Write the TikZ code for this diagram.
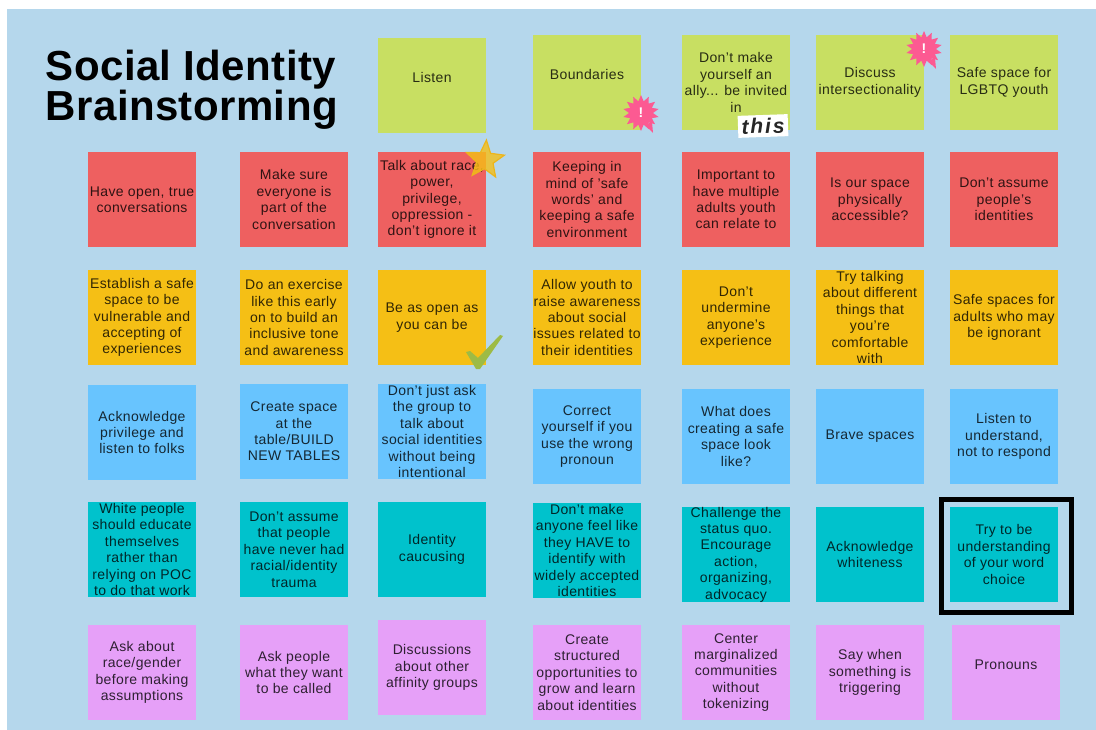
\documentclass[tikz,border=0pt]{standalone}
\usepackage{fontspec}
\setmainfont[LetterSpace=2.7]{Liberation Sans}
\newfontfamily\thisfont[LetterSpace=9]{Liberation Sans}
\newfontfamily\titlefont[LetterSpace=1]{Liberation Sans}
\usetikzlibrary{positioning,shapes.geometric}
\definecolor{mybg}{RGB}{181,215,236}
\definecolor{mygreen}{RGB}{200,223,98}
\definecolor{myred}{RGB}{238,96,96}
\definecolor{myorange}{RGB}{245,191,21}
\definecolor{myblue}{RGB}{104,196,254}
\definecolor{myteal}{RGB}{0,194,204}
\definecolor{mypink}{RGB}{230,160,248}
\definecolor{myburst}{RGB}{252,90,146}
\definecolor{mytick}{RGB}{157,187,69}

\begin{document}
\begin{tikzpicture}[x=1pt,y=-1pt,
greenb/.style={
  fill=mygreen,
  minimum width=108pt,
  minimum height=95pt,
  inner sep=0pt,
  outer sep=0pt,
  align=center,
  text opacity=.8,
  font={\fontsize{14}{16.4}\selectfont}},
redb/.style={greenb,fill=myred},
orangeb/.style={greenb,fill=myorange},
blueb/.style={greenb,fill=myblue},
tealb/.style={greenb,fill=myteal},
pinkb/.style={greenb,fill=mypink},
burstb/.style={
  star,
  star points=14,
  star point ratio=1.5,
  fill=myburst,
  minimum size=36pt,
  inner sep=0pt,
  text=white,
  font={\fontsize{14}{14}\selectfont\bfseries}},
]
\useasboundingbox (0,0) rectangle (1096,730);
\fill[mybg] (7,9) rectangle (1096,730);
% top row
\node[greenb] (Lis) at (432,85.5) {Listen\\\mbox{}};
\node[left=40pt of Lis,yshift=-4pt,inner sep=0pt,align=left,
  font={\fontsize{42}{38}\selectfont\titlefont\bfseries}] (Tit) {Social Identity\\Brainstorming};
\node[greenb,right=47pt of Lis,yshift=3pt] (Bou) {Boundaries\\\mbox{}};
\node[greenb,right=41pt of Bou] (Don) {Don't make\\yourself an\\ally... be invited\\in};
\node[greenb,right=26pt of Don] (Dis) {Discuss\\intersectionality};
\node[greenb,right=26pt of Dis] (Saf) {Safe space for\\LGBTQ youth};
% red row
\node[redb,below=19pt of Lis] (Tal) {Talk about race,\\power,\\privilege,\\oppression -\\don't ignore it};
\node[redb,left=30pt of Tal] (Mak) {Make sure\\everyone is\\part of the\\conversation};
\node[redb,left=44pt of Mak] (Hav) {Have open, true\\conversations};
\node[redb,right=47pt of Tal] (Kee) {Keeping in\\mind of 'safe\\words' and\\keeping a safe\\environment};
\node[redb,right=41pt of Kee] (Imp) {Important to\\have multiple\\adults youth\\can relate to};
\node[redb,right=26pt of Imp] (Isp) {Is our space\\physically\\accessible?};
\node[redb,right=26pt of Isp] (Ass) {Don't assume\\people's\\identities};
% orange row
\node[orangeb,below=23pt of Hav] (Est) {Establish a safe\\space to be\\vulnerable and\\accepting of\\experiences};
\node[orangeb,below=23pt of Mak] (Exe) {Do an exercise\\like this early\\on to build an\\inclusive tone\\and awareness};
\node[orangeb,below=23pt of Tal] (Bea) {Be as open as\\you can be};
\node[orangeb,below=23pt of Kee] (All) {Allow youth to\\raise awareness\\about social\\issues related to\\their identities};
\node[orangeb,below=23pt of Imp] (Und) {Don't\\undermine\\anyone's\\experience};
\node[orangeb,below=23pt of Isp] (Try) {Try talking\\about different\\things that\\you're\\comfortable\\with};
\node[orangeb,below=23pt of Ass] (Sad) {Safe spaces for\\adults who may\\be ignorant};
% blue row
\node[blueb,below=20pt of Est] (Ack) {Acknowledge\\privilege and\\listen to folks};
\node[blueb,below=19pt of Exe] (Cre) {Create space\\at the\\table/BUILD\\NEW TABLES};
\node[blueb,below=19pt of Bea] (Ask) {Don't just ask\\the group to\\talk about\\social identities\\without being\\intentional};
\node[blueb,below=24pt of All] (Cor) {Correct\\yourself if you\\use the wrong\\pronoun};
\node[blueb,below=24pt of Und] (Wha) {What does\\creating a safe\\space look\\like?};
\node[blueb,below=24pt of Try] (Bra) {Brave spaces};
\node[blueb,below=24pt of Sad] (Lst) {Listen to\\understand,\\not to respond};
% teal row
\node[tealb,below=22pt of Ack] (Whi) {White people\\should educate\\themselves\\rather than\\relying on POC\\to do that work};
\node[tealb,below=23pt of Cre] (Tra) {Don't assume\\that people\\have never had\\racial/identity\\trauma};
\node[tealb,below=23pt of Ask] (Cau) {Identity\\caucusing};
\node[tealb,below=19pt of Cor] (Fee) {Don't make\\anyone feel like\\they HAVE to\\identify with\\widely accepted\\identities};
\node[tealb,below=23pt of Wha] (Cha) {Challenge the\\status quo.\\Encourage\\action,\\organizing,\\advocacy};
\node[tealb,below=23pt of Bra] (Wns) {Acknowledge\\whiteness};
\node[tealb,below=23pt of Lst] (Wor) {Try to be\\understanding\\of your word\\choice};
% pink row
\node[pinkb,below=28pt of Whi] (Rac) {Ask about\\race/gender\\before making\\assumptions};
\node[pinkb,below=28pt of Tra] (Cal) {Ask people\\what they want\\to be called};
\node[pinkb,below=23pt of Cau] (Aff) {Discussions\\about other\\affinity groups};
\node[pinkb,below=27pt of Fee] (Str) {Create\\structured\\opportunities to\\grow and learn\\about identities};
\node[pinkb,below=23pt of Cha] (Cen) {Center\\marginalized\\communities\\without\\tokenizing};
\node[pinkb,below=23pt of Wns] (Say) {Say when\\something is\\triggering};
\node[pinkb,below=23pt of Wor,xshift=2pt] (Pro) {Pronouns\\\mbox{}};
% stickers
\node[burstb] (BouB) at ([yshift=17pt]Bou.south east) {!};
\fill[myburst,shift={(BouB.center)}] (4,12) -- (12,20) -- (11,9) -- cycle;
\node[burstb] (DisB) at ([yshift=-14pt]Dis.north east) {!};
\fill[myburst,shift={(DisB.center)}] (4,12) -- (12,20) -- (11,9) -- cycle;
\node[fill=white,rotate=2,inner xsep=2pt,inner ysep=1pt,minimum width=50pt,minimum height=22pt,
  font={\fontsize{21}{21}\selectfont\thisfont\bfseries\itshape},text=black!85] (Thi)
  at ([xshift=-27pt,yshift=4pt]Don.south east) {this};
\node[star,star points=5,star point ratio=2.3,minimum size=40pt,inner sep=0pt,fill=myorange,
  draw=myorange!85!brown,line width=1.2pt,fill opacity=.8,rotate=-4] (Sta)
  at ([xshift=-1pt,yshift=-8pt]Tal.north east) {};
\fill[mytick,shift={(Bea.south east)}]
  (-20,-13) -- (-16,-14) -- (-8,-7) -- (14,-30) -- (17,-29) -- (-6,4) -- (-10,4) -- cycle;
\draw[line width=5pt]
  ([xshift=-8.5pt,yshift=8pt]Wor.north west) rectangle
  ([xshift=13.5pt,yshift=-10pt]Wor.south east);

\end{tikzpicture}
\end{document}
